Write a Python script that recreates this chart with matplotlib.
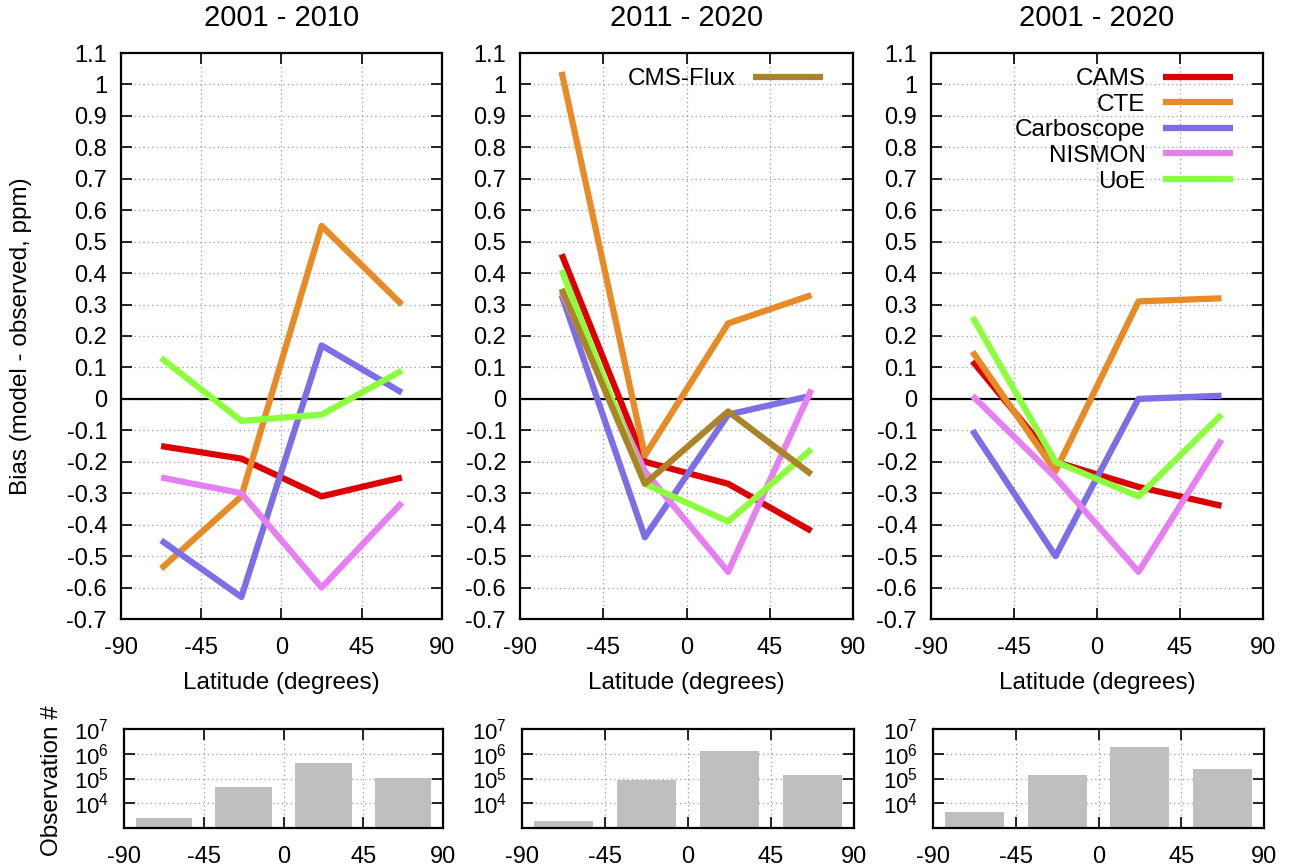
import numpy as np
import matplotlib
matplotlib.use('Agg')
import matplotlib.pyplot as plt
from matplotlib import ticker

plt.rcParams['font.family'] = ['Liberation Sans', 'DejaVu Sans']
plt.rcParams['mathtext.default'] = 'regular'
plt.rcParams['axes.unicode_minus'] = False
plt.rcParams['font.size'] = 17.5

lat = [-67.5, -22.5, 22.5, 67.5]
periods = ['2001 - 2010', '2011 - 2020', '2001 - 2020']

models = ['CAMS', 'CTE', 'Carboscope', 'NISMON', 'UoE', 'CMS-Flux']
colors = ['#dd0000', '#e88a25', '#7b6ee6', '#e680f2', '#8cff3c', '#ab8428']

# bias (model - observed, ppm) per latitude band
bias_0110 = {
    'CAMS':       [-0.15, -0.19, -0.31, -0.25],
    'CTE':        [-0.54, -0.31, 0.55, 0.30],
    'Carboscope': [-0.45, -0.63, 0.17, 0.02],
    'NISMON':     [-0.25, -0.30, -0.60, -0.33],
    'UoE':        [0.13, -0.07, -0.05, 0.09],
}
bias_1120 = {
    'CAMS':       [0.46, -0.20, -0.27, -0.42],
    'CTE':        [1.04, -0.18, 0.24, 0.33],
    'Carboscope': [0.33, -0.44, -0.05, 0.01],
    'NISMON':     [0.34, -0.23, -0.55, 0.03],
    'UoE':        [0.41, -0.27, -0.39, -0.16],
    'CMS-Flux':   [0.35, -0.27, -0.04, -0.24],
}
bias_0120 = {
    'CAMS':       [0.12, -0.20, -0.28, -0.34],
    'CTE':        [0.15, -0.23, 0.31, 0.32],
    'Carboscope': [-0.10, -0.50, 0.00, 0.01],
    'NISMON':     [0.01, -0.25, -0.55, -0.13],
    'UoE':        [0.26, -0.20, -0.31, -0.05],
}
biases = [bias_0110, bias_1120, bias_0120]

# number of observations per latitude band
obs_0110 = [2500, 45000, 440000, 105000]
obs_1120 = [2000, 89000, 1300000, 137000]
obs_0120 = [4600, 137000, 1800000, 240000]
obs = [obs_0110, obs_1120, obs_0120]

W, H = 1300, 867
fig = plt.figure(figsize=(13, 8.67), dpi=100)

top_x = [(121, 442), (520, 853), (931, 1263)]
bot_x = [(124, 443), (522, 854), (933, 1264)]

def style(ax):
    ax.tick_params(direction='in', length=8, width=1.2, top=True, right=True)
    for s in ax.spines.values():
        s.set_linewidth(1.6)
    ax.grid(True, color='#999999', linestyle=(0, (1, 2.5)), linewidth=0.9)
    ax.set_axisbelow(True)
    ax.set_xlim(-90, 90)
    ax.set_xticks([-90, -45, 0, 45, 90])
    ax.tick_params(axis='x', pad=13, labelsize=17)

def fmt(v, pos):
    return '0' if abs(v) < 1e-9 else '%g' % round(v, 1)

for i in range(3):
    x0, x1 = top_x[i]
    ax = fig.add_axes([x0 / W, 1 - 619 / H, (x1 - x0) / W, (619 - 53) / H])
    style(ax)
    ax.set_ylim(-0.7, 1.1)
    ax.set_yticks(np.round(np.arange(-0.7, 1.11, 0.1), 1))
    ax.yaxis.set_major_formatter(ticker.FuncFormatter(fmt))
    ax.tick_params(axis='y', pad=10, labelsize=17)
    ax.axhline(0, color='black', linewidth=1.6, zorder=2)
    lines = []
    for name, col in zip(models, colors):
        if name in biases[i]:
            ln, = ax.plot(lat, biases[i][name], color=col, linewidth=4.5,
                          label=name, solid_capstyle='butt', zorder=3)
            lines.append(ln)
    anchor = (1 - 30 / (x1 - x0), 1 - 15 / 566)
    if i == 1:
        ax.legend(handles=[lines[-1]], loc='upper right', frameon=False,
                  markerfirst=False, handlelength=2.9, handletextpad=0.7,
                  borderaxespad=0, borderpad=0, bbox_to_anchor=anchor)
    if i == 2:
        ax.legend(loc='upper right', frameon=False, markerfirst=False,
                  handlelength=2.9, handletextpad=0.7, labelspacing=0.15,
                  borderaxespad=0, borderpad=0, bbox_to_anchor=anchor)
    ax.set_title(periods[i], pad=19.7)
    ax.set_xlabel('Latitude (degrees)', labelpad=9.6)

    bx0, bx1 = bot_x[i]
    bax = fig.add_axes([bx0 / W, 1 - 828 / H, (bx1 - bx0) / W, (828 - 729) / H])
    style(bax)
    bax.bar(lat, obs[i], width=32, bottom=1, color='#bfbfbf', zorder=2)
    bax.set_yscale('log')
    bax.set_ylim(1e3, 1e7)
    bax.set_yticks([1e4, 1e5, 1e6, 1e7])
    bax.yaxis.set_major_formatter(ticker.LogFormatterMathtext())
    bax.yaxis.set_minor_locator(ticker.NullLocator())
    bax.tick_params(axis='y', pad=11, labelsize=16)

fig.text(21 / W, 1 - 336 / H, 'Bias (model - observed, ppm)', rotation=90,
         ha='center', va='center')
fig.text(52 / W, 1 - 781 / H, 'Observation #', rotation=90,
         ha='center', va='center')

fig.savefig('out.png', dpi=100)
